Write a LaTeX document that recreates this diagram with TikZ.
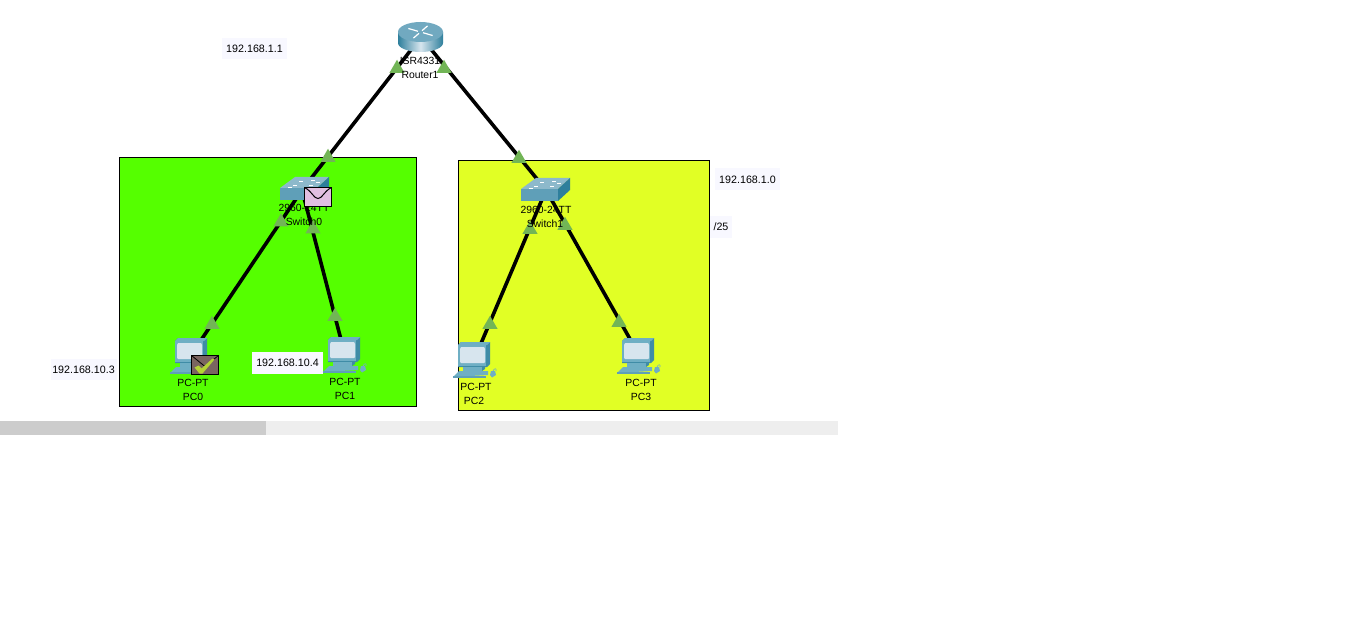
\documentclass[tikz,border=0pt]{standalone}
\usepackage{fontspec}
\setmainfont{Liberation Sans}
\usetikzlibrary{shapes.geometric}
\definecolor{gnd}{HTML}{55FF00}
\definecolor{ynd}{HTML}{E1FF25}
\definecolor{tri}{HTML}{72B556}
\definecolor{labbg}{HTML}{F8F8FF}
\definecolor{pcd}{HTML}{3F8CA6}
\definecolor{pcm}{HTML}{6FAFC4}
\definecolor{pcl}{HTML}{D7E5EE}
\definecolor{swt}{HTML}{8DB9CB}
\definecolor{swf}{HTML}{5F9FB8}
\definecolor{sws}{HTML}{2E7F9C}
\definecolor{envp}{HTML}{E2BFE0}
\definecolor{envd}{HTML}{7A6560}
\definecolor{chk}{HTML}{B5D334}
\tikzset{
  x=1pt,y=-1pt,
  lan/.style={draw=black,line width=1pt},
  link/.style={draw=black,line width=3.6pt},
  anchorpt/.style={inner sep=0pt,minimum size=0pt},
  lbl/.style={font=\fontsize{10.4}{12}\selectfont,inner sep=0pt,text=black},
  iplbl/.style={font=\fontsize{10.7}{12}\selectfont,inner sep=0pt,fill=labbg,anchor=center},
  porttri/.style={regular polygon,regular polygon sides=3,fill=tri,inner sep=0pt,minimum size=17.5pt},
  pics/pcicon/.style={code={
    % monitor
    \fill[pcd] (3,0) -- (32,0) -- (32,22) -- (29,25) -- (0,25) -- (0,3) -- cycle;
    \fill[pcm] (0,3) -- (3,0) -- (32,0) -- (29,3) -- cycle;
    \fill[pcm] (0,3) rectangle (28,24);
    \fill[pcl] (3,5) -- (26,5) -- (27,7) -- (27,20) -- (26,21) -- (3,21) -- (2,20) -- (2,7) -- cycle;
    % stand
    \fill[pcm] (5,25) rectangle (24,29);
    \fill[pcd] (24,25) -- (27,24) -- (27,27) -- (24,29) -- cycle;
    % keyboard
    \fill[pcm] (1,29) -- (30,29) -- (30,33) -- (-5,35) -- cycle;
    \fill[swf] (-5,34) rectangle (28,35.5);
    % mouse
    \fill[pcm] (33,29) -- (37,29) -- (38,33) -- (34,35.5) -- (32,33) -- cycle;
    \draw[pcm,line width=.6pt] (35,29) .. controls (36,26) and (39,26) .. (38,29);
  }},
  pics/swicon/.style={code={
    \fill[swt] (0,0) -- (15,-11) -- (49,-11) -- (37,0) -- cycle;
    \fill[swf] (0,0) rectangle (37,12);
    \fill[sws] (37,0) -- (49,-11) -- (49,1) -- (37,12) -- cycle;
    \foreach \a/\b in {13/-3,19/-7,31/-8,29/-3,36/-6,8/-1}
      \fill[white] (\a,\b) rectangle ++(4,1);
  }},
  pics/rticon/.style={code={
    \shade[left color=sws,right color=sws,middle color=pcl]
      (-22.5,-3) -- (-22.5,8) arc[start angle=180,end angle=0,x radius=22.5,y radius=9] -- (22.5,-3) -- cycle;
    \fill[swf!60!swt] (0,-3) ellipse[x radius=22.5,y radius=10];
    \foreach \r in {30,120,210,300}
      \draw[white,line width=1.2pt] ({3*cos(\r)},{-3+1.5*sin(\r)}) -- ({14*cos(\r)},{-3+7*sin(\r)});
  }},
  pics/mailopen/.style={code={
    \draw[fill=envp,draw=black,line width=1.4pt] (0,0) rectangle (27,19);
    \draw[black,line width=1pt] (0,0) .. controls (8,4) and (9,11) .. (13.5,11) .. controls (18,11) and (19,4) .. (27,0);
  }},
  pics/maildone/.style={code={
    \draw[fill=envd,draw=black,line width=1.4pt] (0,0) rectangle (27,19);
    \draw[black,line width=.8pt] (0,0) -- (13.5,11) -- (27,0);
    \fill[chk] (3,12) -- (7,10) -- (10,13) -- (21,3) -- (23,4) -- (11,18) -- (8,18) -- cycle;
  }},
}
\begin{document}
\begin{tikzpicture}
\useasboundingbox (0,0) rectangle (1353,623);
\fill[white] (0,0) rectangle (1353,623);
% subnet areas
\draw[lan,fill=gnd] (119.5,157.5) rectangle (416.5,406.5);
\draw[lan,fill=ynd] (458.5,160.5) rectangle (709.5,410.5);
% scroll bar
\fill[black!6.5] (0,421) rectangle (838,435);
\fill[black!20] (0,421) rectangle (266,435);
% device centres
\node[anchorpt] (router) at (421,37) {};
\node[anchorpt] (sw0) at (302,190) {};
\node[anchorpt] (sw1) at (546,190) {};
\node[anchorpt] (pc0) at (191,355) {};
\node[anchorpt] (pc1) at (345,355) {};
\node[anchorpt] (pc2) at (474,360) {};
\node[anchorpt] (pc3) at (639,355) {};
% links
\draw[link] (router) -- (sw0);
\draw[link] (router) -- (sw1);
\draw[link] (sw0) -- (pc0);
\draw[link] (sw0) -- (pc1);
\draw[link] (sw1) -- (pc2);
\draw[link] (sw1) -- (pc3);
% devices
\pic at (420.5,35) {rticon};
\pic at (280,188) {swicon};
\pic at (521,189) {swicon};
\pic at (175,338) {pcicon};
\pic at (328,337) {pcicon};
\pic at (458,342) {pcicon};
\pic at (622,338) {pcicon};
% port triangles
\node[porttri] (p1) at (397,68.5) {};
\node[porttri] (p2) at (444,68.5) {};
\node[porttri] (p3) at (328,157.5) {};
\node[porttri] (p4) at (519,158.5) {};
\node[porttri] (p5) at (281,222) {};
\node[porttri] (p6) at (313,229) {};
\node[porttri] (p7) at (212,324.5) {};
\node[porttri] (p8) at (335,316.5) {};
\node[porttri] (p9) at (530,229.5) {};
\node[porttri] (p10) at (565,225.5) {};
\node[porttri] (p11) at (490,324.5) {};
\node[porttri] (p12) at (619,322.5) {};
% device labels
\node[lbl] (t1a) at (420,61) {ISR4331};
\node[lbl] (t1b) at (420,75) {Router1};
\node[lbl] (t2a) at (304,208) {2960-24TT};
\node[lbl] (t2b) at (304,222) {Switch0};
\node[lbl] (t3a) at (546,210) {2960-24TT};
\node[lbl] (t3b) at (545,224) {Switch1};
\node[lbl] (t4a) at (193,383) {PC-PT};
\node[lbl] (t4b) at (193,397) {PC0};
\node[lbl] (t5a) at (345,382) {PC-PT};
\node[lbl] (t5b) at (345,396) {PC1};
\node[lbl] (t6a) at (476,387) {PC-PT};
\node[lbl] (t6b) at (474,401) {PC2};
\node[lbl] (t7a) at (641,383) {PC-PT};
\node[lbl] (t7b) at (641,397) {PC3};
% envelopes
\pic at (304.5,187.5) {mailopen};
\pic at (191.5,355.5) {maildone};
% address notes
\node[iplbl,minimum width=65pt,minimum height=21pt] (n1) at (254.5,48.5) {192.168.1.1};
\node[iplbl,minimum width=66pt,minimum height=21pt] (n2) at (83.5,369.5) {192.168.10.3};
\node[iplbl,minimum width=71pt,minimum height=22pt] (n3) at (287.5,362.5) {192.168.10.4};
\node[iplbl,minimum width=65pt,minimum height=22pt] (n4) at (747.5,179.5) {192.168.1.0};
\node[iplbl,minimum width=22pt,minimum height=22pt] (n5) at (721,226.5) {/25};
\end{tikzpicture}
\end{document}
